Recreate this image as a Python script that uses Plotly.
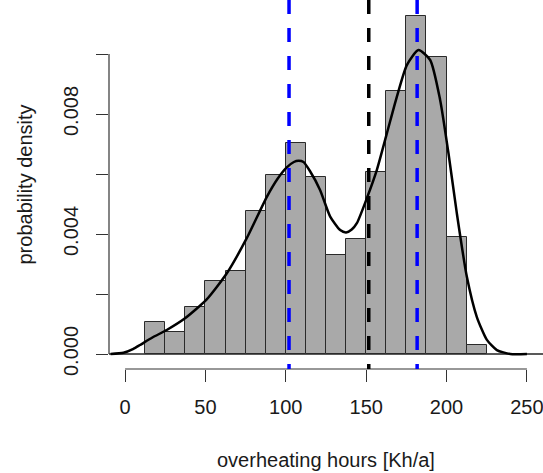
import plotly.graph_objects as go

# Histogram: bin left edges (Kh/a) and densities
bin_width = 12.5
bin_left = [12.5, 25, 37.5, 50, 62.5, 75, 87.5, 100, 112.5, 125, 137.5,
            150, 162.5, 175, 187.5, 200, 212.5]
bin_density = [0.00106, 0.00072, 0.00156, 0.00244, 0.00276, 0.00477, 0.00597,
               0.00702, 0.00591, 0.00329, 0.00382, 0.00606, 0.00878, 0.01127,
               0.00991, 0.00391, 0.00030]

# Kernel density curve
kde_x = [-9, -1, 5.2, 9.3, 17, 25.9, 37.3, 50.8, 63.3, 75.7, 88.2, 95, 100.6,
         105, 107.9, 111, 115, 121.3, 127.6, 133.8, 137.5, 141, 144.2, 150.4,
         156.6, 162.9, 169.1, 175.3, 182.5, 189.8, 196.0, 201.2, 206.4, 212.6,
         218.8, 225.1, 231.3, 239.6, 250]
kde_y = [0.0, 0.00004, 0.00017, 0.00030, 0.00055, 0.0008, 0.00119, 0.00182,
         0.00269, 0.00386, 0.00524, 0.00585, 0.00622, 0.0064, 0.00644, 0.0064,
         0.0061, 0.00547, 0.00458, 0.00413, 0.00405, 0.00415, 0.00436, 0.00519,
         0.00613, 0.00736, 0.00858, 0.00963, 0.01013, 0.0098, 0.00847, 0.00669,
         0.00469, 0.00258, 0.00124, 0.00047, 0.00013, 0.0, 0.0]

# Vertical reference lines
blue_lines = [102, 181.7]
black_lines = [151.6]

x_ticks = [0, 50, 100, 150, 200, 250]
y_ticks = [0.0, 0.002, 0.004, 0.006, 0.008, 0.010]
y_tick_text = ["0.000", "", "0.004", "", "0.008", ""]

bin_centers = [b + bin_width / 2 for b in bin_left]

fig = go.Figure()
fig.add_trace(go.Bar(
    x=bin_centers, y=bin_density, width=bin_width,
    marker=dict(color="#A9A9A9", line=dict(color="#2a2a2a", width=1)),
    hoverinfo="skip"))
fig.add_trace(go.Scatter(
    x=kde_x, y=kde_y, mode="lines",
    line=dict(color="black", width=2.5, shape="spline", smoothing=0.6),
    hoverinfo="skip"))

shapes = []
# baseline at zero
shapes.append(dict(type="line", xref="paper", x0=0, x1=1, yref="y", y0=0, y1=0,
                   line=dict(color="#222", width=1.5), layer="below"))
# detached axis lines (R style)
shapes.append(dict(type="line", xref="x", x0=x_ticks[0], x1=x_ticks[-1],
                   yref="paper", y0=0, y1=0, line=dict(color="#333", width=1.2)))
shapes.append(dict(type="line", xref="paper", x0=0, x1=0,
                   yref="y", y0=y_ticks[0], y1=y_ticks[-1],
                   line=dict(color="#333", width=1.2)))
for v in blue_lines:
    shapes.append(dict(type="line", xref="x", x0=v, x1=v, yref="paper", y0=1, y1=0,
                       line=dict(color="#0000FF", width=3.5, dash="14px,14px")))
for v in black_lines:
    shapes.append(dict(type="line", xref="x", x0=v, x1=v, yref="paper", y0=1, y1=0,
                       line=dict(color="black", width=3.5, dash="14px,14px")))

font = dict(family="Liberation Sans, Arial, sans-serif", size=20, color="#1a1a1a")

fig.update_layout(
    width=543, height=473,
    margin=dict(l=109, r=0, t=0, b=104, autoexpand=False),
    paper_bgcolor="white", plot_bgcolor="white",
    showlegend=False, bargap=0,
    font=font,
    shapes=shapes,
    xaxis=dict(range=[-10, 260], tickvals=x_ticks, ticks="outside", ticklen=12,
               tickwidth=1.2, tickcolor="#333", showgrid=False, zeroline=False,
               showline=False, ticklabelstandoff=8, tickfont=font, automargin=False,
               ticklabeloverflow="allow"),
    yaxis=dict(range=[-0.0005, 0.0118], tickvals=y_ticks, ticktext=y_tick_text,
               ticks="outside", ticklen=12, tickwidth=1.2, tickcolor="#333",
               tickangle=-90, showgrid=False, zeroline=False, showline=False,
               ticklabelstandoff=10, tickfont=font, automargin=False,
               ticklabeloverflow="allow"),
    annotations=[
        dict(text="overheating hours [Kh/a]", xref="paper", x=0.5, yref="paper", y=0,
             yanchor="middle", xanchor="center", yshift=-91, showarrow=False, font=font),
        dict(text="probability density", xref="paper", x=0, yref="paper", y=0.5,
             xanchor="center", yanchor="middle", xshift=-85, textangle=-90,
             showarrow=False, font=font),
    ],
)

fig.write_html("out.html", config={"displayModeBar": False},
               post_script="document.body.style.margin='0';document.body.style.overflow='hidden';")
